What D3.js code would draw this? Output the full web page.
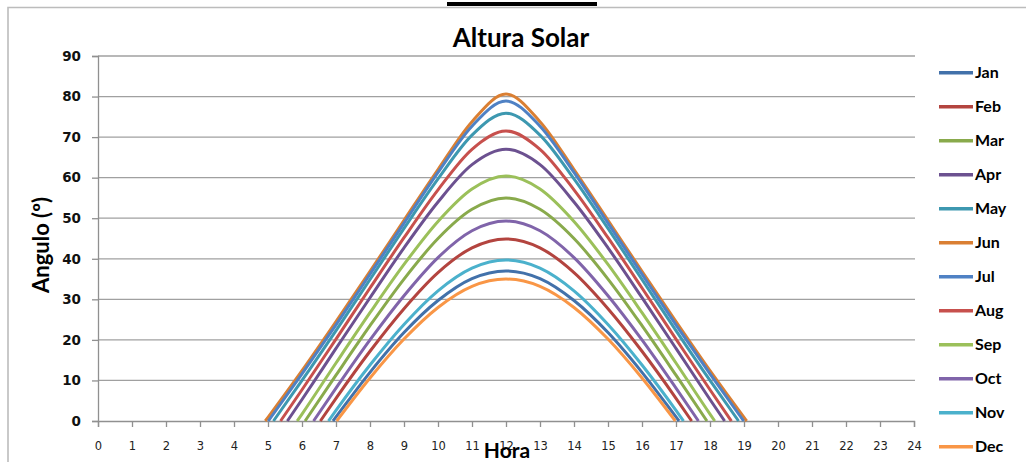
<!DOCTYPE html>
<html><head><meta charset="utf-8">
<script src="https://cdn.jsdelivr.net/npm/d3@7"></script>
<style>body{margin:0;background:#fff;overflow:hidden}</style>
</head><body>
<svg id="c" width="1026" height="462"></svg>
<script>
const months = ["Jan","Feb","Mar","Apr","May","Jun","Jul","Aug","Sep","Oct","Nov","Dec"];
const hours = [5,6,7,8,9,10,11,12,13,14,15,16,17,18,19];
const sunrise = [6.91,6.54,6.09,5.57,5.16,4.92,5.01,5.37,5.86,6.34,6.78,7.02];
const sunset  = [17.09,17.46,17.91,18.43,18.84,19.08,18.99,18.63,18.14,17.66,17.22,16.98];
const jan = [null,null,1.0,12.0,21.8,29.7,35.1,37.0,35.1,29.7,21.8,12.0,1.0,null,null];
const feb = [null,null,5.6,17.2,27.7,36.6,42.7,44.9,42.7,36.6,27.7,17.2,5.6,null,null];
const mar = [null,null,11.3,23.5,35.0,45.0,52.2,55.0,52.2,45.0,35.0,23.5,11.3,null,null];
const apr = [null,5.3,17.9,30.4,42.7,54.0,63.2,67.0,63.2,54.0,42.7,30.4,17.9,5.3,null];
const may = [null,10.0,22.3,34.9,47.5,59.7,70.5,75.9,70.5,59.7,47.5,34.9,22.3,10.0,null];
const jun = [0.9,12.4,24.5,36.9,49.5,62.0,73.8,80.6,73.8,62.0,49.5,36.9,24.5,12.4,0.9];
const jul = [null,11.6,23.7,36.2,48.8,61.3,72.7,78.9,72.7,61.3,48.8,36.2,23.7,11.6,null];
const aug = [null,7.7,20.2,32.8,45.2,57.0,67.0,71.5,67.0,57.0,45.2,32.8,20.2,7.7,null];
const sep = [null,1.7,14.3,26.7,38.6,49.2,57.2,60.4,57.2,49.2,38.6,26.7,14.3,1.7,null];
const oct = [null,null,8.1,20.0,30.9,40.3,46.9,49.3,46.9,40.3,30.9,20.0,8.1,null,null];
const nov = [null,null,2.6,13.8,23.8,32.1,37.7,39.7,37.7,32.1,23.8,13.8,2.6,null,null];
const dec = [null,null,null,10.6,20.2,28.0,33.2,35.0,33.2,28.0,20.2,10.6,null,null,null];
const seriesValues = [jan,feb,mar,apr,may,jun,jul,aug,sep,oct,nov,dec];
const yTicks = [0,10,20,30,40,50,60,70,80,90];
const xTicks = [0,1,2,3,4,5,6,7,8,9,10,11,12,13,14,15,16,17,18,19,20,21,22,23,24];
const colors = ["#4271AA","#B3443F","#89AA4C","#6C5190","#3D98B0","#DA7F33",
                "#4F81C4","#C7504D","#9BC05A","#8064AA","#4BB1CC","#F99646"];

const svg = d3.select("#c");
const x = d3.scaleLinear().domain([0,24]).range([98,914]);
const y = d3.scaleLinear().domain([0,90]).range([421,56]);

// outer frame
svg.append("path").attr("d","M8,462 L8,7.5 L1026,7.5").attr("fill","none")
  .attr("stroke","#bcbcbc").attr("stroke-width",1.6);
// small header bar
svg.append("rect").attr("x",447).attr("y",2).attr("width",150).attr("height",4).attr("fill","#000");

// gridlines
svg.append("g").selectAll("line").data(yTicks.filter(d=>d>0)).join("line")
  .attr("x1",x(0)).attr("x2",x(24)+1).attr("y1",d=>y(d)).attr("y2",d=>y(d))
  .attr("stroke","#a0a0a0").attr("stroke-width",1.3);

// y axis
const ya = svg.append("g").attr("transform",`translate(${x(0)},0)`)
  .call(d3.axisLeft(y).tickValues(yTicks).tickSize(6).tickPadding(11));
ya.select(".domain").attr("stroke","#909090").attr("stroke-width",1.3);
ya.selectAll(".tick line").attr("stroke","#909090").attr("stroke-width",1.3);
ya.selectAll("text").attr("font-family","DejaVu Sans").attr("font-weight","bold")
  .attr("font-size",13.5).attr("fill","#111");

// x axis
const xa = svg.append("g").attr("transform",`translate(0,${y(0)})`)
  .call(d3.axisBottom(x).tickValues(xTicks).tickSize(6).tickPadding(15).tickFormat(d3.format("d")));
xa.select(".domain").attr("stroke","#909090").attr("stroke-width",1.3);
xa.selectAll(".tick line").attr("stroke","#909090").attr("stroke-width",1.3);
xa.selectAll("text").attr("font-family","DejaVu Sans").attr("font-size",11.5)
  .attr("fill","#222");

// series
const line = d3.line().x(d=>x(d.h)).y(d=>y(d.v)).curve(d3.curveMonotoneX);
const series = months.map((m,i)=>{
  const pts = [{h:sunrise[i],v:0}];
  hours.forEach((h,j)=>{ if(seriesValues[i][j]!==null) pts.push({h:h,v:seriesValues[i][j]}); });
  pts.push({h:sunset[i],v:0});
  return {name:m,color:colors[i],pts:pts};
});
svg.append("g").selectAll("path").data(series).join("path")
  .attr("d",d=>line(d.pts)).attr("fill","none").attr("stroke",d=>d.color)
  .attr("stroke-width",3).attr("stroke-linejoin","round");

// title
svg.append("text").attr("x",521).attr("y",47).attr("text-anchor","middle")
  .attr("font-family","Lato").attr("font-weight","bold").attr("font-size",26)
  .attr("fill","#000").text("Altura Solar");
// axis titles
svg.append("text").attr("transform","translate(49,245) rotate(-90)").attr("text-anchor","middle")
  .attr("font-family","Lato").attr("font-weight","bold").attr("font-size",22)
  .attr("fill","#000").text("Angulo (º)");
svg.append("text").attr("x",507).attr("y",458).attr("text-anchor","middle")
  .attr("font-family","Lato").attr("font-weight","bold").attr("font-size",21)
  .attr("fill","#000").text("Hora");

// legend
const lg = svg.append("g").selectAll("g").data(series).join("g")
  .attr("transform",(d,i)=>`translate(0,${72.7 + i*34})`);
lg.append("line").attr("x1",939).attr("x2",973).attr("y1",0).attr("y2",0)
  .attr("stroke",d=>d.color).attr("stroke-width",3.5);
lg.append("text").attr("x",975).attr("y",5.5).attr("font-family","Lato").attr("font-weight","bold")
  .attr("font-size",16).attr("fill","#000").text(d=>d.name);
</script>
</body></html>
